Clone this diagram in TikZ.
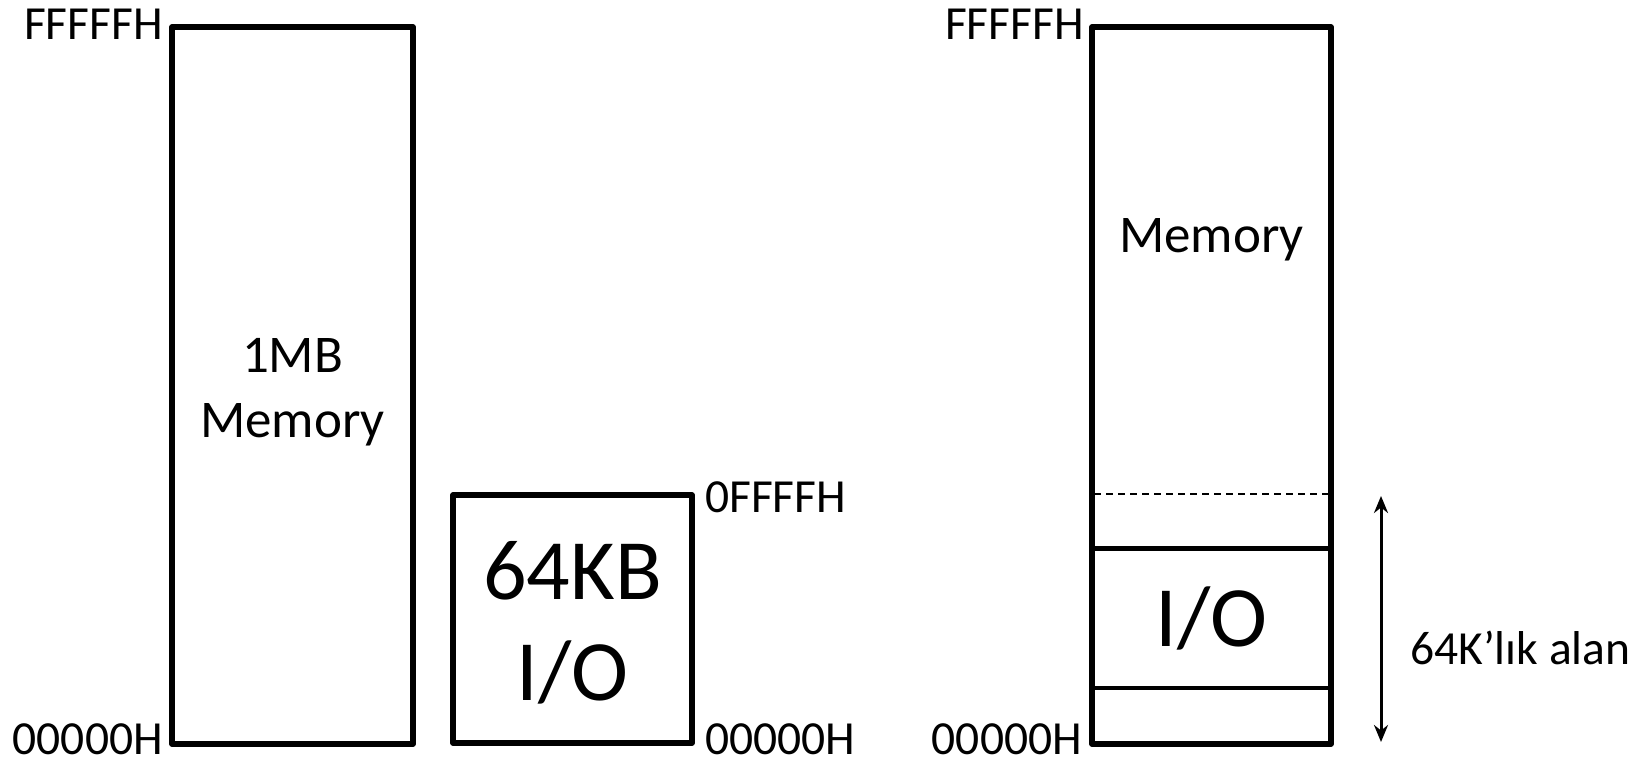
\documentclass[tikz,border=0pt]{standalone}
\usepackage{fontspec}
\setmainfont{Carlito}
\usetikzlibrary{arrows.meta}
\begin{document}
\begin{tikzpicture}[x=1pt,y=-1pt,
  box/.style={draw,line width=5.2pt,line join=round},
  sep/.style={draw,line width=4.5pt},
  addr/.style={inner sep=0pt,text depth=0pt,font=\fontsize{47.5}{47.5}\selectfont},
  big/.style={inner sep=0pt,font=\fontsize{53}{53}\selectfont},
  huge/.style={inner sep=0pt,font=\fontsize{86}{86}\selectfont}]
\useasboundingbox (0,0) rectangle (1635,763);
% left memory
\draw[box] (172,27) rectangle (413,744);
\node[addr,anchor=base east] (lt) at (163,39) {FFFFFH};
\node[addr,anchor=base east] (lb) at (163,754) {00000H};
\node[big,anchor=base] (m1) at (292.5,372) {1MB};
\node[big,anchor=base] (m2) at (292.5,437) {Memory};
% I/O box
\draw[box] (453,495) rectangle (692,743);
\node[addr,anchor=base west] (it) at (705,512) {0FFFFH};
\node[addr,anchor=base west] (ib) at (705,754) {00000H};
\node[huge,anchor=base] (i1) at (572.5,599.5) {64KB};
\node[huge,anchor=base] (i2) at (572.5,700.5) {I/O};
% right memory
\draw[box] (1092,27) rectangle (1331,744);
\node[addr,anchor=base east] (rt) at (1084,39) {FFFFFH};
\node[addr,anchor=base east] (rb) at (1082,754) {00000H};
\node[big,anchor=base] (rm) at (1211.5,252) {Memory};
\draw[dashed,line width=1.8pt,dash pattern=on 7pt off 5pt] (1094,494) -- (1329,494);
\draw[sep] (1092,548.5) -- (1331,548.5);
\draw[sep] (1092,688) -- (1331,688);
\node[huge,anchor=base] (rio) at (1211.5,646.5) {I/O};
\coordinate (a1) at (1381,496);
\coordinate (a2) at (1381,742);
\draw[line width=3pt,{Stealth[length=17pt,width=14pt]}-{Stealth[length=17pt,width=14pt]}] (a1) -- (a2);
\node[addr,anchor=base west] (lab) at (1410,664) {64K’lık alan};
\end{tikzpicture}
\end{document}
